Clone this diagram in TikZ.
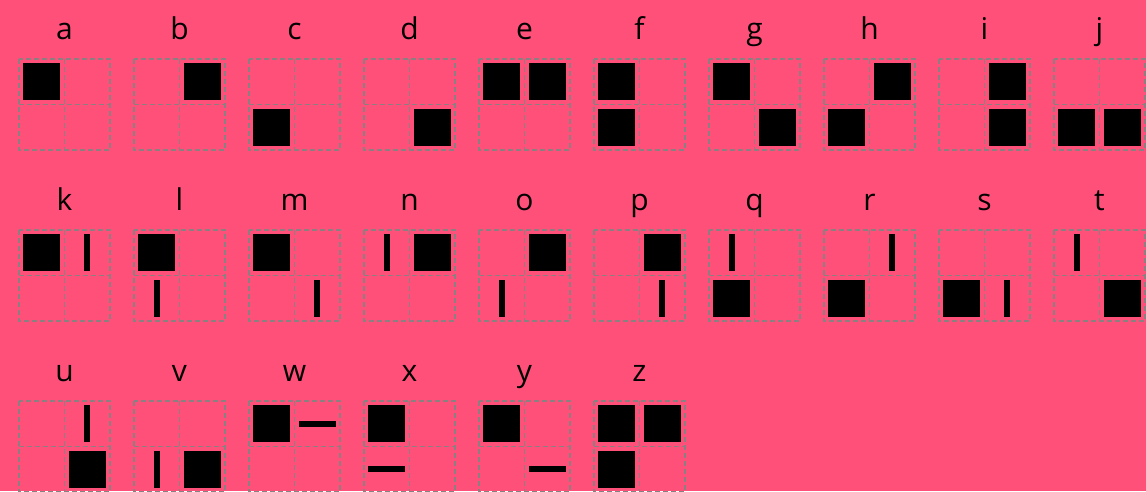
\documentclass[tikz,border=0pt]{standalone}
\usepackage{fontspec}
\setmainfont{Open Sans}
\usepackage{xcolor}
\usepackage{tikz}
\definecolor{blush}{HTML}{FF507A}
\definecolor{guide}{HTML}{8A8082}
\definecolor{ink}{HTML}{000000}

\begin{document}
\begin{tikzpicture}[
  x=1pt, y=-1pt,
  % one pixel of the target is one point here, y runs downwards
  letter/.style = {font=\fontsize{30}{36}\selectfont, anchor=base, inner sep=0pt, text=ink},
  guide/.style  = {draw=guide, dash pattern=on 5pt off 3pt, line width=1.2pt},
  blocks/.style = {fill=ink, inner sep=0pt, minimum width=37pt, minimum height=37pt},
  blockv/.style = {fill=ink, inner sep=0pt, minimum width=6pt, minimum height=37pt},
  blockh/.style = {fill=ink, inner sep=0pt, minimum width=37pt, minimum height=6pt},
]

% -------------------------------------------------------------- background --
\fill[blush] (0,0) rectangle (1146,491);
\useasboundingbox (0,0) rectangle (1146,491);

% ----------------------------------------------------------------- letters --
% letter / column / row / {kind/cell x/cell y, ...}
\foreach \ch/\col/\row/\marks in {
  a/0/0/{s/0/0}, b/1/0/{s/1/0}, c/2/0/{s/0/1}, d/3/0/{s/1/1},
  e/4/0/{s/0/0,s/1/0}, f/5/0/{s/0/0,s/0/1}, g/6/0/{s/0/0,s/1/1},
  h/7/0/{s/1/0,s/0/1}, i/8/0/{s/1/0,s/1/1}, j/9/0/{s/0/1,s/1/1},
  k/0/1/{s/0/0,v/1/0}, l/1/1/{s/0/0,v/0/1}, m/2/1/{s/0/0,v/1/1},
  n/3/1/{v/0/0,s/1/0}, o/4/1/{s/1/0,v/0/1}, p/5/1/{s/1/0,v/1/1},
  q/6/1/{v/0/0,s/0/1}, r/7/1/{v/1/0,s/0/1}, s/8/1/{s/0/1,v/1/1},
  t/9/1/{v/0/0,s/1/1},
  u/0/2/{v/1/0,s/1/1}, v/1/2/{v/0/1,s/1/1}, w/2/2/{s/0/0,h/1/0},
  x/3/2/{s/0/0,h/0/1}, y/4/2/{s/0/0,h/1/1}, z/5/2/{s/0/0,s/1/0,s/0/1}%
}{
  \coordinate (\ch) at ({19+115*\col},{59+171*\row});
  \node[letter] (\ch-name) at ([shift={(45.5,-20)}]\ch) {\ch};
  \draw[guide] (\ch) rectangle ++(91,91)
               ([xshift=45.5pt]\ch) -- ++(0,91)
               ([yshift=-45.5pt]\ch) -- ++(91,0);
  \foreach \kind/\cx/\cy in \marks
    \node[block\kind] (\ch-\cx\cy) at ([shift={({22.75+45.5*\cx},{22.75+45.5*\cy})}]\ch) {};
}

\end{tikzpicture}
\end{document}
